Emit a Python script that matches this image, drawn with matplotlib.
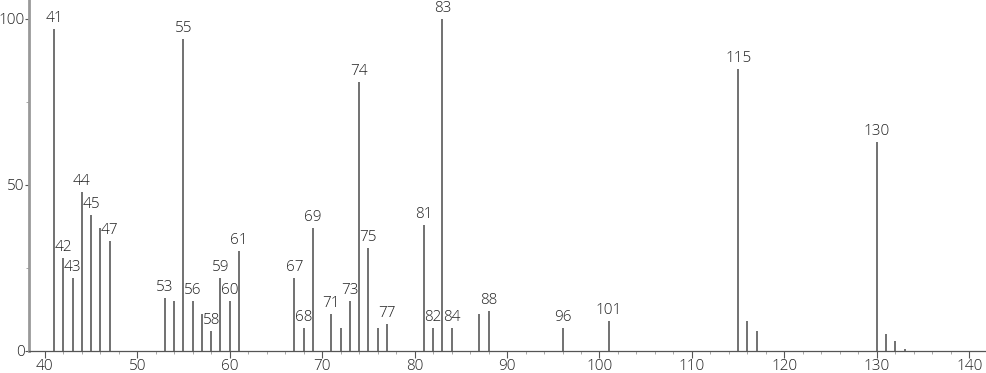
import matplotlib
matplotlib.use("Agg")
import matplotlib.pyplot as plt
from matplotlib.ticker import MultipleLocator

# m/z and relative intensity
mz = [41, 42, 43, 44, 45, 46, 47, 53, 54, 55, 56, 57, 58, 59, 60, 61,
      67, 68, 69, 71, 72, 73, 74, 75, 76, 77, 81, 82, 83, 84, 87, 88,
      96, 101, 115, 116, 117, 130, 131, 132, 133]
intensity = [97, 28, 22, 48, 41, 37, 33, 16, 15, 94, 15, 11, 6, 22, 15, 30,
             22, 7, 37, 11, 7, 15, 81, 31, 7, 8, 38, 7, 100, 7, 11, 12,
             7, 9, 85, 9, 6, 63, 5, 3, 0.6]
labeled = [41, 42, 43, 44, 45, 47, 53, 55, 56, 58, 59, 60, 61, 67, 68, 69,
           71, 73, 74, 75, 77, 81, 82, 83, 84, 88, 96, 101, 115, 130]

plt.rcParams['font.family'] = ['Open Sans', 'DejaVu Sans']

fig = plt.figure(figsize=(9.86, 3.73), dpi=100)
ax = fig.add_axes([29 / 986, 22 / 373, 956 / 986, 351 / 373])

ax.vlines(mz, 0, intensity, color="#4a4a4a", linewidth=1.1)
for m, h in zip(mz, intensity):
    if m in labeled:
        ax.text(m, h + 0.9, str(m), ha="center", va="bottom",
                fontsize=11, fontweight="light", color="#222222")

ax.set_xlim(38.29, 141.7)
ax.set_ylim(0, 105.7)

ax.xaxis.set_major_locator(MultipleLocator(10))
ax.xaxis.set_minor_locator(MultipleLocator(2))
ax.yaxis.set_major_locator(MultipleLocator(50))
ax.yaxis.set_minor_locator(MultipleLocator(25))

for s in ["top", "right"]:
    ax.spines[s].set_visible(False)
ax.spines["left"].set_color("#999999")
ax.spines["left"].set_linewidth(2)
ax.spines["bottom"].set_color("#555555")
ax.spines["bottom"].set_linewidth(0.9)

ax.tick_params(axis="both", which="major", width=0.8,
               color="#555555", labelsize=11, labelcolor="#222222")
ax.tick_params(axis="x", which="major", length=5, pad=1)
ax.tick_params(axis="y", which="major", length=3, pad=0.3)
ax.tick_params(axis="both", which="minor", length=2.5, width=0.6,
               color="#999999")
for lbl in ax.get_xticklabels() + ax.get_yticklabels():
    lbl.set_fontweight("light")

fig.savefig("out.png", dpi=100)
